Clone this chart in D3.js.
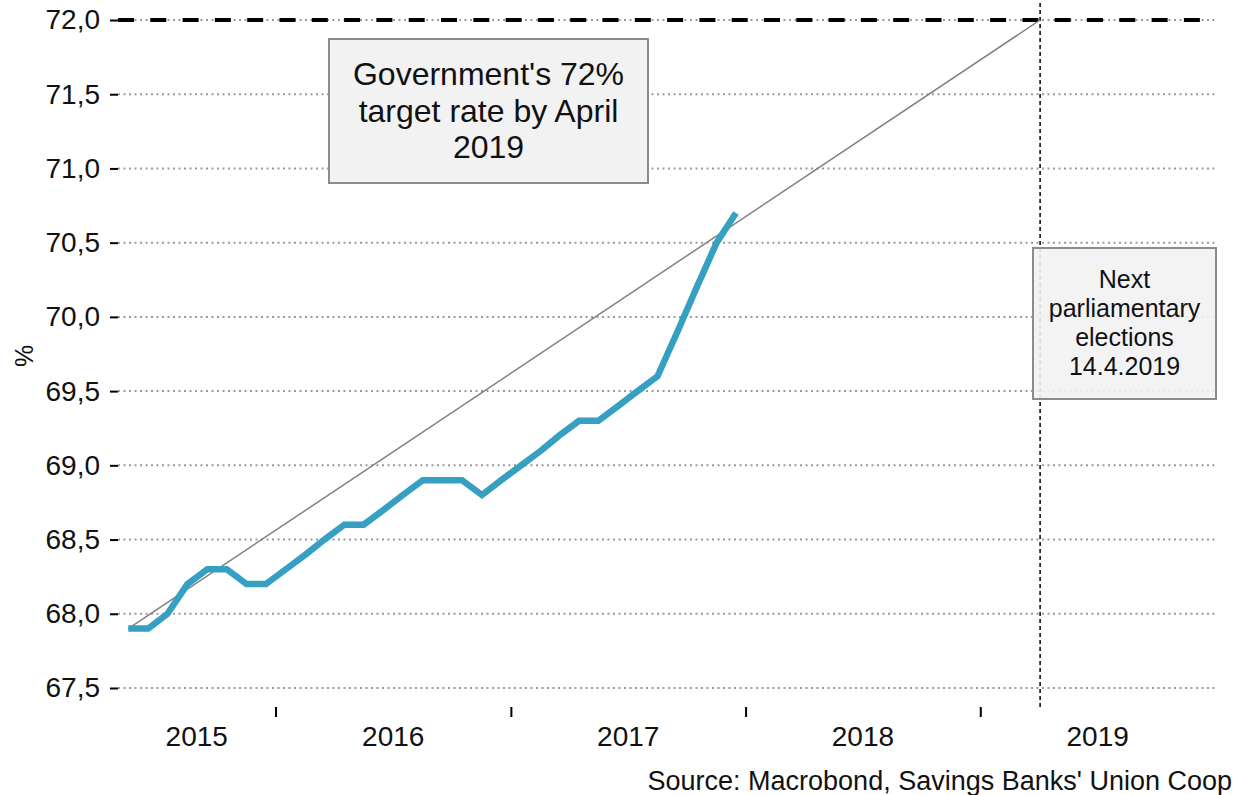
<!DOCTYPE html>
<html>
<head>
<meta charset="utf-8">
<script src="https://cdn.jsdelivr.net/npm/d3@7"></script>
<style>
  html, body { margin: 0; padding: 0; background: #fff; }
  svg { display: block; font-family: "Liberation Sans", Arial, sans-serif; }
</style>
</head>
<body>
<svg id="chart" width="1238" height="795"></svg>
<script>
// ---- data ----
const months = ["2015-05","2015-06","2015-07","2015-08","2015-09","2015-10","2015-11","2015-12",
  "2016-01","2016-02","2016-03","2016-04","2016-05","2016-06","2016-07","2016-08","2016-09","2016-10","2016-11","2016-12",
  "2017-01","2017-02","2017-03","2017-04","2017-05","2017-06","2017-07","2017-08","2017-09","2017-10","2017-11","2017-12"];
const rates = [67.9, 67.9, 68.0, 68.2, 68.3, 68.3, 68.2, 68.2,
  68.3, 68.4, 68.5, 68.6, 68.6, 68.7, 68.8, 68.9, 68.9, 68.9, 68.8, 68.9,
  69.0, 69.1, 69.2, 69.3, 69.3, 69.4, 69.5, 69.6, 69.9, 70.2, 70.5, 70.7];
const yTicks = [67.5, 68.0, 68.5, 69.0, 69.5, 70.0, 70.5, 71.0, 71.5, 72.0];
const yearLabels = ["2015", "2016", "2017", "2018", "2019"];
const targetValue = 72.0;
const targetDate = "2019-04-04";
const titleLines = ["Government's 72%", "target rate by April", "2019"];
const electionLines = ["Next", "parliamentary", "elections", "14.4.2019"];
const sourceText = "Source: Macrobond, Savings Banks' Union Coop";
const yLabel = "%";

// ---- layout ----
const plotL = 118, plotR = 1215, plotT = 20, plotB = 688;
const svg = d3.select("#chart");
const parseMonth = s => { const [yy, mm] = s.split("-").map(Number); return new Date(yy, mm - 1, 17); };
const parseDay = s => { const [yy, mm, dd] = s.split("-").map(Number); return new Date(yy, mm - 1, dd); };

const x = d3.scaleTime().domain([new Date(2015, 4, 1), new Date(2020, 0, 1)]).range([plotL, plotR]);
const y = d3.scaleLinear().domain([67.5, 72.0]).range([plotB, plotT]);
const fmt = v => d3.format(".1f")(v).replace(".", ",");

// gridlines
svg.append("g").selectAll("line").data(yTicks).join("line")
  .attr("x1", plotL).attr("x2", plotR)
  .attr("y1", d => y(d)).attr("y2", d => y(d))
  .attr("stroke", "#9a9a9a").attr("stroke-width", 2).attr("stroke-dasharray", "2,3.5");

// y axis
const yAxis = svg.append("g").attr("transform", `translate(${plotL},0)`)
  .call(d3.axisLeft(y).tickValues(yTicks).tickFormat(fmt).tickSize(8).tickPadding(10));
yAxis.select(".domain").remove();
yAxis.selectAll(".tick line").attr("stroke", "#000").attr("stroke-width", 2);
yAxis.selectAll(".tick text").attr("font-size", 28).attr("fill", "#111")
  .attr("font-family", "'Liberation Sans', Arial, sans-serif");

// x axis ticks (year boundaries)
const yearStarts = yearLabels.slice(1).map(s => new Date(+s, 0, 1));
const xAxis = svg.append("g").attr("transform", `translate(0,707)`)
  .call(d3.axisBottom(x).tickValues(yearStarts).tickFormat("").tickSize(10));
xAxis.select(".domain").remove();
xAxis.selectAll(".tick line").attr("stroke", "#000").attr("stroke-width", 2);

// year labels at visible-year midpoints
const [d0, d1] = x.domain();
svg.append("g").selectAll("text").data(yearLabels).join("text")
  .attr("x", d => {
    const a = Math.max(+new Date(+d, 0, 1), +d0), b = Math.min(+new Date(+d + 1, 0, 1), +d1);
    return (x(new Date(a)) + x(new Date(b))) / 2;
  })
  .attr("y", 746).attr("text-anchor", "middle").attr("font-size", 28).attr("fill", "#111")
  .text(d => d);

// target line 72.0 (thick dashes over dotted grid)
svg.append("line")
  .attr("x1", plotL).attr("x2", plotR).attr("y1", y(targetValue)).attr("y2", y(targetValue))
  .attr("stroke", "#000").attr("stroke-width", 4).attr("stroke-dasharray", "16,16.3");

// vertical dashed line at target date
const tx = x(parseDay(targetDate));
svg.append("line")
  .attr("x1", tx).attr("x2", tx).attr("y1", 3).attr("y2", 707)
  .attr("stroke", "#000").attr("stroke-width", 1.5).attr("stroke-dasharray", "4,3");

// trend line from first value to target
const series = months.map((m, i) => ({ date: parseMonth(m), value: rates[i] }));
svg.append("line")
  .attr("x1", x(series[0].date)).attr("y1", y(series[0].value))
  .attr("x2", tx).attr("y2", y(targetValue))
  .attr("stroke", "#808080").attr("stroke-width", 1.5);

// main series
svg.append("path").datum(series)
  .attr("d", d3.line().x(d => x(d.date)).y(d => y(d.value)))
  .attr("fill", "none").attr("stroke", "#36a0c2").attr("stroke-width", 6.5);

// title annotation box
const tb = svg.append("g");
tb.append("rect").attr("x", 329).attr("y", 39).attr("width", 319).attr("height", 144)
  .attr("fill", "#f2f2f2").attr("stroke", "#8c8c8c").attr("stroke-width", 2);
tb.selectAll("text").data(titleLines).join("text")
  .attr("x", 488.5).attr("y", (d, i) => 85 + i * 36.5)
  .attr("text-anchor", "middle").attr("font-size", 32).attr("fill", "#111").text(d => d);

// election annotation box
const eb = svg.append("g");
eb.append("rect").attr("x", 1033).attr("y", 248).attr("width", 183).attr("height", 151)
  .attr("fill", "#f2f2f2").attr("fill-opacity", 0.9).attr("stroke", "#8c8c8c").attr("stroke-width", 2);
eb.selectAll("text").data(electionLines).join("text")
  .attr("x", 1124.5).attr("y", (d, i) => 288 + i * 29)
  .attr("text-anchor", "middle").attr("font-size", 25).attr("fill", "#111").text(d => d);

// y label
svg.append("text").attr("transform", "translate(33,356) rotate(-90)")
  .attr("text-anchor", "middle").attr("font-size", 25).attr("fill", "#111").text(yLabel);

// source
svg.append("text").attr("x", 1232).attr("y", 790).attr("text-anchor", "end")
  .attr("font-size", 27).attr("fill", "#111").text(sourceText);
</script>
</body>
</html>
